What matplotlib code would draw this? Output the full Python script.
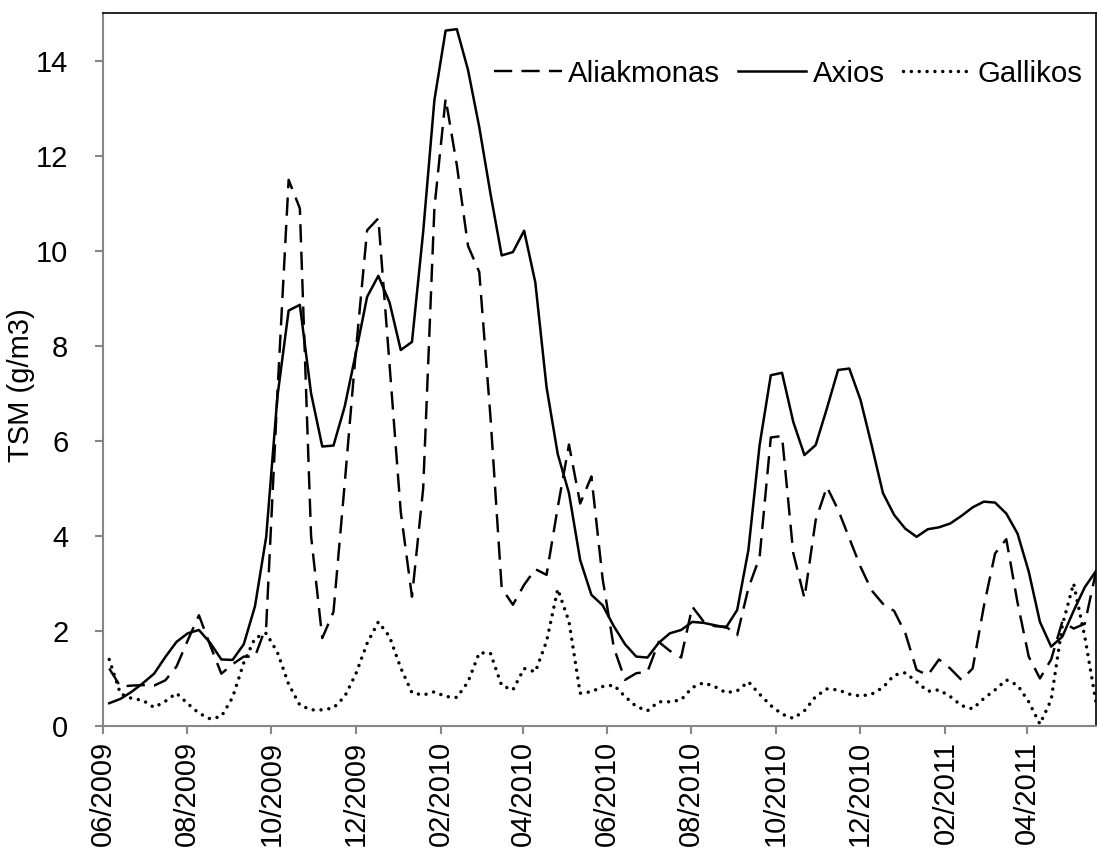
import matplotlib
matplotlib.use('Agg')
import matplotlib.pyplot as plt
import pandas as pd

plt.rcParams['font.family'] = ['Liberation Sans', 'DejaVu Sans']

# ---- data -------------------------------------------------------------
start_date = '2009-06-05 12:00'
end_date = '2011-05-21'
n_points = 89
dates = pd.date_range(start_date, end_date, periods=n_points)

aliakmonas = [1.21, 0.83, 0.85, 0.86, 0.85, 0.96, 1.25, 1.80, 2.33, 1.70,
              1.10, 1.30, 1.46, 1.46, 2.10, 7.00, 11.49, 10.89, 4.00, 1.85,
              2.40, 5.10, 7.90, 10.43, 10.68, 7.60, 4.50, 2.72, 5.00, 10.90,
              13.20, 11.80, 10.10, 9.55, 6.50, 2.90, 2.55, 2.97, 3.30, 3.18,
              4.60, 5.92, 4.68, 5.25, 3.10, 1.65, 0.97, 1.11, 1.14, 1.77,
              1.58, 1.44, 2.51, 2.20, 2.10, 2.09, 1.91, 2.90, 3.55, 6.07,
              6.10, 3.64, 2.69, 4.33, 5.03, 4.55, 3.95, 3.35, 2.85, 2.57,
              2.42, 1.95, 1.18, 1.07, 1.40, 1.21, 0.97, 1.21, 2.52, 3.63,
              3.93, 2.60, 1.46, 1.00, 1.40, 2.20, 2.05, 2.15, 3.25]

axios = [0.48, 0.57, 0.72, 0.90, 1.10, 1.45, 1.77, 1.95, 2.02, 1.75,
         1.40, 1.39, 1.72, 2.52, 3.98, 6.93, 8.74, 8.86, 7.00, 5.88,
         5.90, 6.72, 7.85, 9.03, 9.47, 8.91, 7.91, 8.08, 10.40, 13.17,
         14.63, 14.66, 13.80, 12.60, 11.20, 9.90, 9.97, 10.42, 9.33, 7.13,
         5.72, 4.90, 3.49, 2.76, 2.54, 2.10, 1.72, 1.46, 1.44, 1.75,
         1.95, 2.02, 2.19, 2.17, 2.12, 2.07, 2.44, 3.70, 5.91, 7.38,
         7.43, 6.40, 5.70, 5.91, 6.68, 7.49, 7.52, 6.86, 5.90, 4.90,
         4.44, 4.15, 3.98, 4.14, 4.18, 4.26, 4.42, 4.60, 4.72, 4.70,
         4.47, 4.05, 3.25, 2.19, 1.67, 1.88, 2.42, 2.92, 3.26]

gallikos = [1.40, 0.68, 0.58, 0.54, 0.39, 0.52, 0.69, 0.47, 0.27, 0.15,
            0.20, 0.60, 1.33, 1.85, 1.95, 1.55, 0.88, 0.44, 0.34, 0.34,
            0.38, 0.62, 1.10, 1.74, 2.19, 1.88, 1.22, 0.70, 0.65, 0.72,
            0.62, 0.60, 0.93, 1.54, 1.53, 0.85, 0.76, 1.21, 1.14, 1.78,
            2.88, 2.20, 0.69, 0.72, 0.83, 0.86, 0.62, 0.41, 0.32, 0.51,
            0.51, 0.55, 0.81, 0.91, 0.83, 0.70, 0.74, 0.93, 0.67, 0.43,
            0.25, 0.16, 0.32, 0.62, 0.78, 0.76, 0.67, 0.63, 0.67, 0.81,
            1.07, 1.12, 0.93, 0.73, 0.76, 0.62, 0.43, 0.36, 0.58, 0.76,
            0.97, 0.86, 0.51, 0.04, 0.55, 2.12, 3.00, 1.88, 0.50]

series_names = ['Aliakmonas', 'Axios', 'Gallikos']
tick_dates = pd.date_range('2009-06-01', '2011-04-01', freq='2MS')
tick_labels = [d.strftime('%m/%Y') for d in tick_dates]
y_ticks = [0, 2, 4, 6, 8, 10, 12, 14]
y_label = 'TSM (g/m3)'

# ---- figure -----------------------------------------------------------
W, H = 1097, 852
fig = plt.figure(figsize=(W / 100, H / 100), dpi=100)
ax = fig.add_axes([103 / W, 126 / H, 993 / W, 713 / H])

ax.plot(dates, aliakmonas, color='black', lw=1.75, linestyle=(0, (7.5, 3.8)),
        label=series_names[0])
ax.plot(dates, axios, color='black', lw=1.8, linestyle='-',
        label=series_names[1])
ax.plot(dates, gallikos, color='black', lw=2.5, linestyle=(0, (0.01, 2.25)),
        dash_capstyle='round', label=series_names[2])

ax.set_xlim(pd.Timestamp('2009-06-01'), pd.Timestamp('2011-05-21'))
ax.set_ylim(0, 15)

ax.set_xticks(tick_dates)
ax.set_xticklabels(tick_labels, rotation=90, fontsize=21)
ax.set_yticks(y_ticks)
ax.set_yticklabels([str(v) for v in y_ticks], fontsize=21)

gray = '#868686'
ax.tick_params(axis='x', length=6, width=1.5, color=gray, pad=5)
ax.tick_params(axis='y', length=6, width=1.5, color=gray, pad=19)
for s in ['left', 'bottom']:
    ax.spines[s].set_color(gray)
    ax.spines[s].set_linewidth(1.5)
for s in ['top', 'right']:
    ax.spines[s].set_color('black')
    ax.spines[s].set_linewidth(1.2)

fig.text(21 / W, 1 - 385 / H, y_label, rotation=90, ha='center', va='center',
         fontsize=21)

ax.legend(loc='center right', bbox_to_anchor=(0.9859, 0.9150), ncol=3,
          frameon=False, fontsize=21.2, handlelength=2.3, handletextpad=0.22,
          columnspacing=0.62, borderpad=0, borderaxespad=0)

fig.savefig('out.png', dpi=100)
